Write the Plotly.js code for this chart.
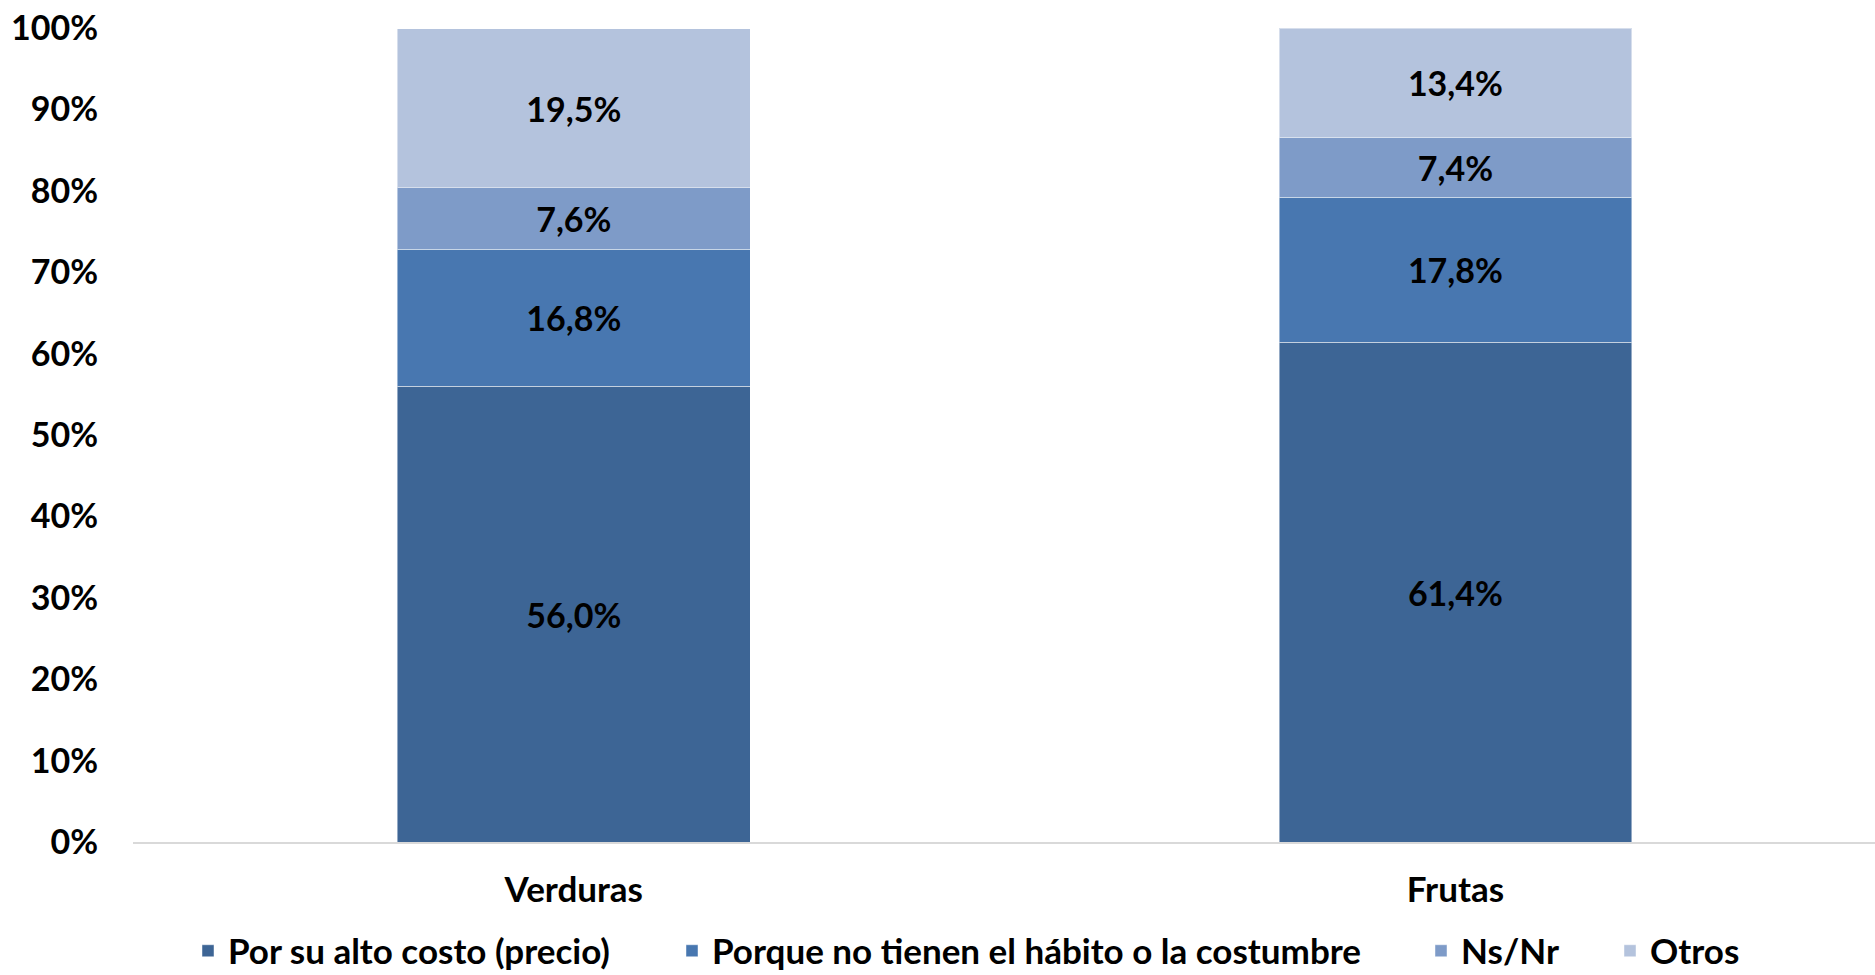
<!DOCTYPE html>
<html>
<head>
<meta charset="utf-8">
<script src="https://cdn.plot.ly/plotly-3.0.1.min.js"></script>
<style>html,body{margin:0;padding:0;background:#fff;}#chart{width:1875px;height:975px;}</style>
</head>
<body>
<div id="chart"></div>
<script>
const categories = ["Verduras", "Frutas"];
const seriesNames = ["Por su alto costo (precio)", "Porque no tienen el hábito o la costumbre", "Ns/Nr", "Otros"];
const costo = [56.0, 61.4];
const habito = [16.8, 17.8];
const nsnr = [7.6, 7.4];
const otros = [19.5, 13.4];
const colors = ["#3D6595", "#4877B0", "#7E9BC8", "#B4C3DD"];
const yTicks = [0, 10, 20, 30, 40, 50, 60, 70, 80, 90, 100];

const FONT = "Lato, 'Open Sans', sans-serif";
const legendIds = ["legend", "legend2", "legend3", "legend4"];
const legendX = [188, 672, 1421, 1610];   // left edge of each legend entry, px in container

const values = [costo, habito, nsnr, otros];
const traces = values.map((v, i) => ({
  type: "bar",
  name: seriesNames[i],
  legend: legendIds[i],
  x: categories,
  y: v,
  width: 0.4,
  marker: {color: colors[i], line: {color: "rgba(255,255,255,0.45)", width: 1}},
  texttemplate: "%{y:.1f}%",
  textposition: "inside",
  insidetextanchor: "middle",
  constraintext: "none",
  textfont: {family: FONT, size: 34, color: "#000000", weight: 700},
  hoverinfo: "skip"
}));

const layout = {
  width: 1875,
  height: 975,
  barmode: "stack",
  separators: ",.",
  paper_bgcolor: "#ffffff",
  plot_bgcolor: "#ffffff",
  margin: {l: 133, r: 0, t: 28, b: 133, autoexpand: false},
  font: {family: FONT, size: 34, color: "#000000", weight: 700},
  showlegend: true,
  xaxis: {
    type: "category",
    range: [-0.5, 1.476],
    showgrid: false,
    showline: true,
    linecolor: "#D9D9D9",
    linewidth: 2,
    ticks: "",
    ticklabelstandoff: 16,
    tickfont: {family: FONT, size: 35, color: "#000000", weight: 700},
    fixedrange: true
  },
  yaxis: {
    range: [0, 100],
    tickvals: yTicks,
    ticktext: yTicks.map(t => t + "%"),
    showgrid: false,
    zeroline: false,
    showline: false,
    ticks: "",
    ticklabelstandoff: 34,
    tickfont: {family: FONT, size: 34, color: "#000000", weight: 700},
    fixedrange: true
  }
};

legendIds.forEach((id, i) => {
  layout[id] = {
    xref: "container", yref: "container",
    x: legendX[i] / 1875, xanchor: "left",
    y: (975 - 951) / 975, yanchor: "middle",
    orientation: "h",
    bgcolor: "rgba(0,0,0,0)",
    font: {family: FONT, size: 35, color: "#000000", weight: 700},
    itemclick: false
  };
});

Plotly.newPlot("chart", traces, layout, {displayModeBar: false, staticPlot: true});
</script>
</body>
</html>
